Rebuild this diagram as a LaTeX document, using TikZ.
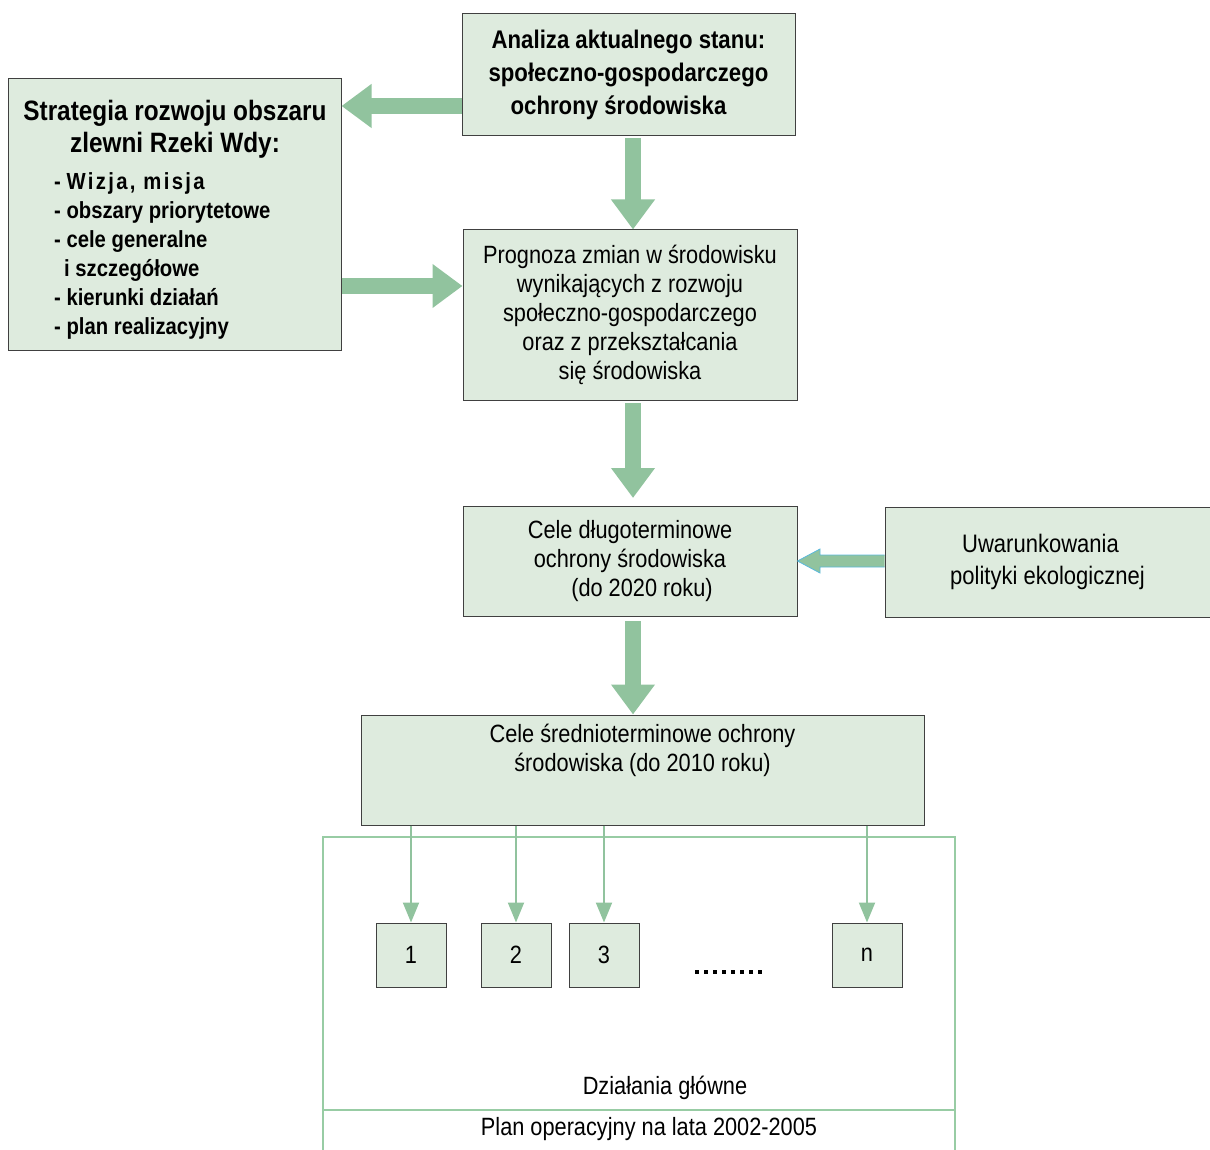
\documentclass[tikz,border=0pt]{standalone}
\usepackage{fontspec}
\setmainfont{Liberation Sans}[FakeStretch=0.87]
\usetikzlibrary{arrows.meta}
\usetikzlibrary{calc}
\usetikzlibrary{positioning}
\definecolor{boxfill}{RGB}{222,235,222}
\definecolor{boxline}{RGB}{64,64,64}
\definecolor{arrowgreen}{RGB}{145,195,158}
\definecolor{framegreen}{RGB}{152,204,164}
\definecolor{edgeblue}{RGB}{90,185,220}

\begin{document}
\begin{tikzpicture}[x=1pt, y=-1pt,
    box/.style={draw=boxline, fill=boxfill, line width=1pt, align=center, inner sep=0pt},
    bigarrow/.style={draw=arrowgreen, line width=16pt, -{Triangle[length=30pt, width=42pt]}},
    smallarrow/.style={draw=arrowgreen, line width=2pt, -{Triangle[length=20pt, width=16pt]}},
    normaltxt/.style={font=\fontsize{25}{29}\selectfont},
    boldtxt/.style={font=\bfseries\fontsize{25.5}{33}\selectfont}]
    \useasboundingbox (0,0) rectangle (1210,1150);

    % main boxes
    \node[box, boldtxt, minimum width=333pt, minimum height=122pt] (analiza) at (628.5,75)
        {Analiza aktualnego stanu:\\ społeczno-gospodarczego\\ ochrony środowiska\hspace*{20pt}};
    \node[box, minimum width=333pt, minimum height=271pt] (strategia) at (174.5,214.5) {};
    \node[font=\bfseries\fontsize{28}{32}\selectfont, align=center, inner sep=0pt] (strategiahead) at (175,129)
        {Strategia rozwoju obszaru\\ zlewni Rzeki Wdy:};
    \node[font=\bfseries\fontsize{23.3}{29}\selectfont, align=left, inner sep=0pt, anchor=north west] (strategialist) at (54,172)
        {- {\addfontfeatures{LetterSpace=10}Wizja, misja}\\
         - obszary priorytetowe\\
         - cele generalne\\
         \hspace*{10pt}i szczegółowe\\
         - kierunki działań\\
         - plan realizacyjny};
    \node[box, normaltxt, minimum width=334pt, minimum height=170pt] (prognoza) at (630,315)
        {Prognoza zmian w środowisku\\ wynikających z rozwoju\\ społeczno-gospodarczego\\ oraz z przekształcania\\ się środowiska};
    \node[box, normaltxt, minimum width=334pt, minimum height=110pt] (celedl) at (630,561)
        {Cele długoterminowe\\ ochrony środowiska\\ \hspace*{24pt}(do 2020 roku)};
    \node[box, font=\fontsize{25.3}{32}\selectfont, minimum width=325pt, minimum height=110pt] (uwar) at (1047.5,562)
        {Uwarunkowania\hspace*{14pt}\\ polityki ekologicznej};
    \node[box, minimum width=563pt, minimum height=110pt] (celesr) at (642.5,770) {};
    \node[normaltxt, align=center, inner sep=0pt] (celesrtxt) at (642.5,750)
        {Cele średnioterminowe ochrony\\ środowiska (do 2010 roku)};

    % frame of the plan
    \draw[framegreen, line width=1.5pt] (323,1150) -- (323,837) -- (955,837) -- (955,1150);
    \draw[framegreen, line width=1.5pt] (323,1110) -- (955,1110);
    \node[normaltxt, inner sep=0pt] (dzialania) at (665,1088) {Działania główne};
    \node[normaltxt, inner sep=0pt] (plan) at (649,1129) {Plan operacyjny na lata 2002-2005};

    % actions
    \foreach \name/\lab/\xx in {d1/1/411, d2/2/516, d3/3/604, dn/n/867}
        \node[box, normaltxt, minimum width=70pt, minimum height=64pt] (\name) at (\xx,955) {\lab};
    \draw[line width=4pt, dash pattern=on 4pt off 5pt] (695,972) -- (764,972);

    % arrows
    \draw[bigarrow] (analiza.west |- 0,106) -- (strategia.east |- 0,106);
    \draw[bigarrow] (strategia.east |- 0,286) -- (prognoza.west |- 0,286);
    \draw[bigarrow] (633,138) -- (prognoza.north -| 633,0);
    \draw[bigarrow] (633,403) -- (633,498);
    \draw[bigarrow] (633,621) -- (celesr.north -| 633,0);
    \filldraw[fill=arrowgreen, draw=edgeblue, line width=0.8pt]
        (uwar.west |- 0,555) -- (820,555) -- (820,549) -- (celedl.east |- 0,561)
        -- (820,573) -- (820,567) -- (uwar.west |- 0,567);
    \foreach \name in {d1,d2,d3,dn}
        \draw[smallarrow] (\name |- celesr.south) -- (\name.north);
\end{tikzpicture}
\end{document}
